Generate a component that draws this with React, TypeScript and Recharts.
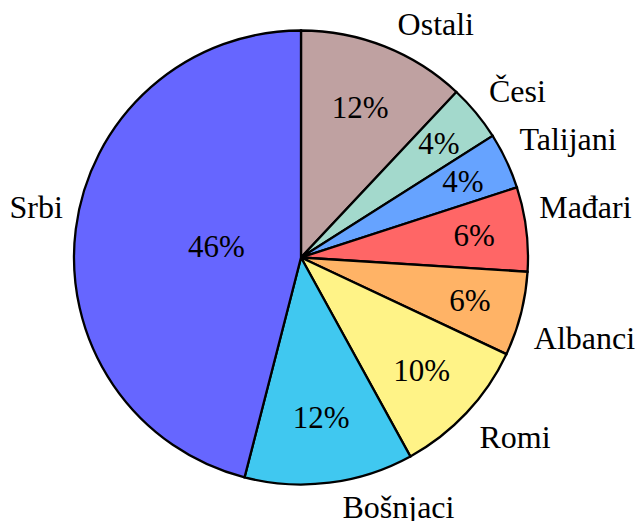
import React from "react";
import { Pie, PieChart, Cell } from "recharts";

const groups = ["Ostali", "Česi", "Talijani", "Mađari", "Albanci", "Romi", "Bošnjaci", "Srbi"];
const shares = [12, 4, 4, 6, 6, 10, 12, 46];
const colors = ["#bfa1a1", "#a3d9cc", "#66a3ff", "#ff6666", "#ffb366", "#fff387", "#40c8f0", "#6666ff"];

const data = groups.map((name, i) => ({ name, value: shares[i] }));

const RAD = Math.PI / 180;
const FONT = "'Liberation Serif', 'DejaVu Serif', serif";
const SIZE = 32;
const SEP = 13;

const renderLabel = (props: any) => {
  const { cx, cy, midAngle, outerRadius, percent, name, value } = props;
  const span = percent * 360;
  // inner label radius shrinks for big slices
  const shift = Math.max(Math.min(((span - 10) / 110) * -0.3, 0), -0.5);
  const ri = (shift + 0.8) * outerRadius;
  const cos = Math.cos(-midAngle * RAD);
  const sin = Math.sin(-midAngle * RAD);
  const xi = cx + ri * cos;
  const yi = cy + ri * sin;
  const xo = cx + outerRadius * cos;
  const yo = cy + outerRadius * sin;
  const right = cos >= 0;
  const upper = sin < 0;
  return (
    <g>
      <text x={xi} y={yi} textAnchor="middle" dominantBaseline="central" fontFamily={FONT} fontSize={31} fill="#000">
        {value}%
      </text>
      <text
        x={right ? xo + SEP : xo - SEP}
        y={upper ? yo - 11 : yo + 35}
        textAnchor={right ? "start" : "end"}
        fontFamily={FONT}
        fontSize={SIZE}
        fill="#000"
      >
        {name}
      </text>
    </g>
  );
};

export default function App() {
  return (
    <div style={{ position: "absolute", left: 0, top: 0, background: "#fff" }}>
      <PieChart width={639} height={521} margin={{ top: 0, right: 0, bottom: 0, left: 0 }}>
        <Pie
          data={data}
          dataKey="value"
          nameKey="name"
          cx={301}
          cy={257.5}
          outerRadius={227}
          startAngle={90}
          endAngle={-270}
          stroke="#000"
          strokeWidth={2.3}
          label={renderLabel}
          labelLine={false}
          isAnimationActive={false}
        >
          {data.map((d, i) => (
            <Cell key={d.name} fill={colors[i]} />
          ))}
        </Pie>
      </PieChart>
    </div>
  );
}
